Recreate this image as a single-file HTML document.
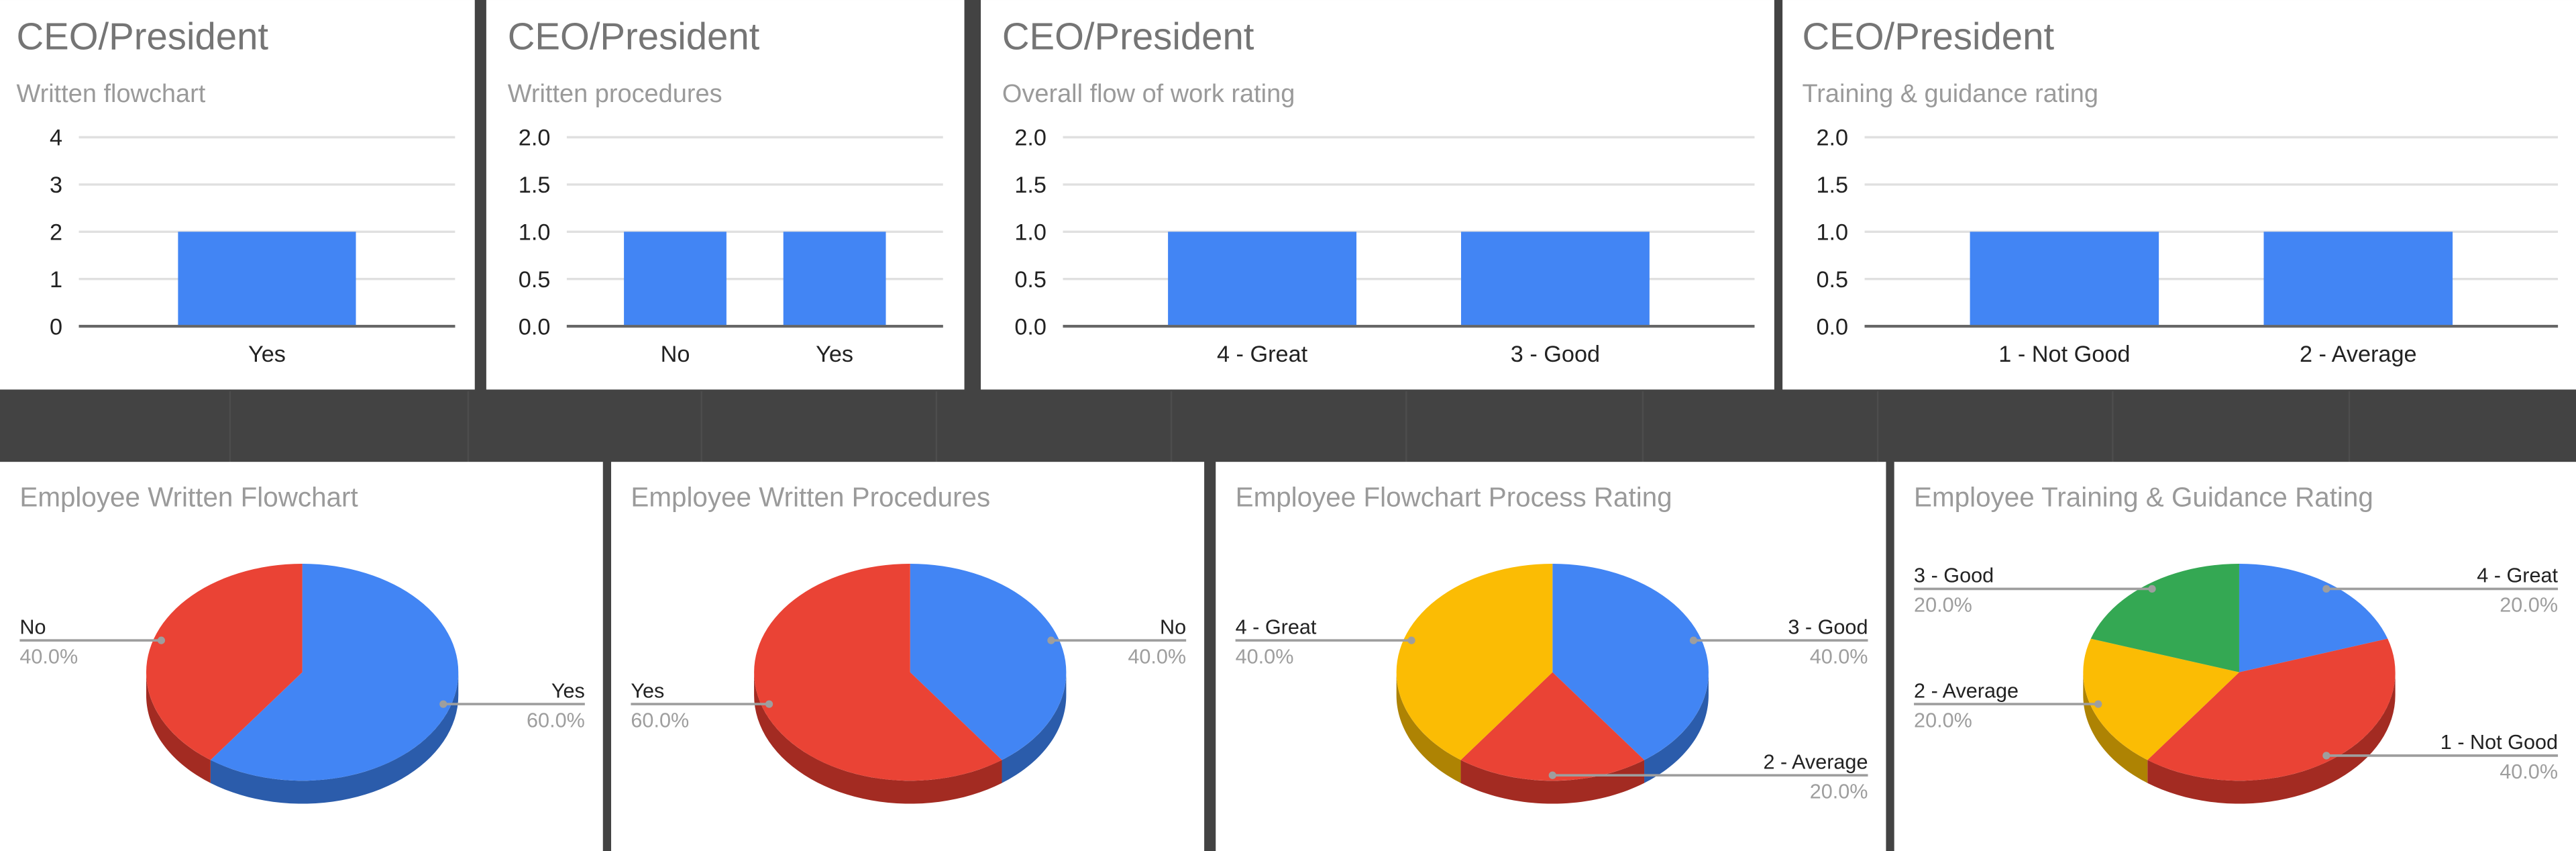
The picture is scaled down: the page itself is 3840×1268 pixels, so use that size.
<!DOCTYPE html>
<html><head><meta charset="utf-8">
<style>
html,body{margin:0;padding:0;background:#434343;}
svg{display:block;font-family:"Liberation Sans",Arial,sans-serif;}
</style></head>
<body>
<svg id="root" width="3840" height="1268" viewBox="0 0 1568 517.76" xmlns="http://www.w3.org/2000/svg">
<rect x="0" y="0" width="1568" height="517.76" fill="#434343"/>
</svg>
<script>
// ---- bar chart data ----
const bar1Categories = ["Yes"];
const bar1Values = [2];
const bar1Ticks = [0,1,2,3,4];
const bar1TickLabels = ["0","1","2","3","4"];

const bar2Categories = ["No","Yes"];
const bar2Values = [1,1];
const bar2Ticks = [0,0.5,1,1.5,2];
const bar2TickLabels = ["0.0","0.5","1.0","1.5","2.0"];

const bar3Categories = ["4 - Great","3 - Good"];
const bar3Values = [1,1];
const bar3Ticks = [0,0.5,1,1.5,2];
const bar3TickLabels = ["0.0","0.5","1.0","1.5","2.0"];

const bar4Categories = ["1 - Not Good","2 - Average"];
const bar4Values = [1,1];
const bar4Ticks = [0,0.5,1,1.5,2];
const bar4TickLabels = ["0.0","0.5","1.0","1.5","2.0"];

// ---- pie chart data ----
const pie1Labels = ["Yes","No"];
const pie1Values = [60,40];
const pie1Colors = ["blue","red"];

const pie2Labels = ["No","Yes"];
const pie2Values = [40,60];
const pie2Colors = ["blue","red"];

const pie3Labels = ["3 - Good","2 - Average","4 - Great"];
const pie3Values = [40,20,40];
const pie3Colors = ["blue","red","yellow"];

const pie4Labels = ["4 - Great","1 - Not Good","2 - Average","3 - Good"];
const pie4Values = [20,40,20,20];
const pie4Colors = ["blue","red","yellow","green"];

const NS="http://www.w3.org/2000/svg";
const root=document.getElementById('root');
const TOP={blue:"#4285f4",red:"#ea4335",yellow:"#fbbc04",green:"#34a853"};
const SIDE={blue:"#2b5cab",red:"#a32b22",yellow:"#ae8303",green:"#237539"};

function el(tag,attrs,parent,text){
  const e=document.createElementNS(NS,tag);
  for(const k in attrs) e.setAttribute(k,attrs[k]);
  if(text!==undefined) e.textContent=text;
  (parent||root).appendChild(e);
  return e;
}

[140,285,427,570,713,856,1000,1143,1286,1430].forEach(x=>{
  const l=el('line',{x1:x,y1:238,x2:x,y2:281,stroke:'#4d4d4d','stroke-width':1});
  
  
});

function barChart(g,name,cats,vals,ticks,tickLabels){
  const grp=el('g',{});
  
  
  const p=el('rect',{x:g.px,y:g.py,width:g.pw,height:g.ph,fill:'#ffffff'},grp);
  
  
  const t=el('text',{x:g.px+g.tx,y:30,'font-size':23,fill:'#757575'},grp,'CEO/President');
  
  
  const s=el('text',{x:g.px+g.tx,y:62,'font-size':15.5,fill:'#9a9a9a'},grp,g.sub);
  
  
  const y0=198.5,y1=83.5;
  const tmax=ticks[ticks.length-1];
  const Y=v=>y0-(v/tmax)*(y0-y1);
  ticks.forEach((tv,i)=>{
    const gl=el('line',{x1:g.gx0,x2:g.gx1,y1:Y(tv),y2:Y(tv),stroke:i===0?'#666':'#e0e0e0','stroke-width':i===0?1.6:1.4},grp);
    
    
    const tl=el('text',{x:g.gx0-10,y:Y(tv)+5,'font-size':14,fill:'#222','text-anchor':'end'},grp,tickLabels[i]);
    
    
  });
  const n=cats.length,W=g.gx1-g.gx0;
  const step=W/(n+0.36),bw=step*0.643;
  const start=(g.gx0+g.gx1)/2-step*(n-1)/2;
  cats.forEach((c,i)=>{
    const cx=start+step*i;
    const b=el('rect',{x:cx-bw/2,y:Y(vals[i]),width:bw,height:y0-Y(vals[i]),fill:'#4285f4'},grp);
    
    
    const xl=el('text',{x:cx,y:220,'font-size':14,fill:'#222','text-anchor':'middle'},grp,c);
    
    
  });
  const bl=el('line',{x1:g.gx0,x2:g.gx1,y1:y0,y2:y0,stroke:'#666','stroke-width':1.6},grp);
  
  
}

barChart({px:0,py:0,pw:289,ph:237,tx:10,sub:'Written flowchart',gx0:48,gx1:277},'bar-chart-written-flowchart',bar1Categories,bar1Values,bar1Ticks,bar1TickLabels);
barChart({px:296,py:0,pw:291,ph:237,tx:13,sub:'Written procedures',gx0:345,gx1:574},'bar-chart-written-procedures',bar2Categories,bar2Values,bar2Ticks,bar2TickLabels);
barChart({px:597,py:0,pw:483,ph:237,tx:13,sub:'Overall flow of work rating',gx0:647,gx1:1068},'bar-chart-flow-of-work',bar3Categories,bar3Values,bar3Ticks,bar3TickLabels);
barChart({px:1085,py:0,pw:483,ph:237,tx:12,sub:'Training & guidance rating',gx0:1135,gx1:1557},'bar-chart-training-guidance',bar4Categories,bar4Values,bar4Ticks,bar4TickLabels);

function pieChart(g,name,labels,vals,colors){
  const grp=el('g',{});
  
  
  const p=el('rect',{x:g.px,y:281,width:g.pw,height:240,fill:'#ffffff'},grp);
  
  
  const t=el('text',{x:g.px+12,y:308,'font-size':16.5,fill:'#9a9a9a'},grp,g.title);
  
  
  const cx=g.cx,cy=409,rx=95,ry=66,d=14;
  const P=(deg,f)=>{const r=deg*Math.PI/180;return [cx+rx*f*Math.sin(r),cy-ry*f*Math.cos(r)];};
  const total=vals.reduce((a,b)=>a+b,0);
  let a=0;const segs=[];
  vals.forEach((v,i)=>{const b=a+v/total*360;segs.push([a,b]);a=b;});
  segs.forEach(([s,e],i)=>{
    const lo=Math.max(s,90),hi=Math.min(e,270);
    if(hi<=lo) return;
    const pts=[];
    for(let k=0;k<=40;k++){const q=P(lo+(hi-lo)*k/40,1);pts.push(q);}
    const back=pts.slice().reverse().map(q=>[q[0],q[1]+d]);
    const poly=pts.concat(back).map(q=>q[0].toFixed(2)+','+q[1].toFixed(2)).join(' ');
    const sd=el('polygon',{points:poly,fill:SIDE[colors[i]]},grp);
    
    
  });
  segs.forEach(([s,e],i)=>{
    const pts=[[cx,cy]];
    const n=Math.max(4,Math.ceil((e-s)/3));
    for(let k=0;k<=n;k++) pts.push(P(s+(e-s)*k/n,1));
    const sl=el('polygon',{points:pts.map(q=>q[0].toFixed(2)+','+q[1].toFixed(2)).join(' '),fill:TOP[colors[i]]},grp);
    
    
  });
  segs.forEach(([s,e],i)=>{
    const dot=P((s+e)/2,0.95);
    const right=dot[0]>=cx-0.5;
    const lx=right?g.px+g.pw-11:g.px+12;
    const ln=el('line',{x1:dot[0],y1:dot[1],x2:lx,y2:dot[1],stroke:'#9e9e9e','stroke-width':1.5},grp);
    
    
    const c=el('circle',{cx:dot[0],cy:dot[1],r:2.3,fill:'#9e9e9e'},grp);
    
    
    const anc=right?'end':'start';
    const lt=el('text',{x:lx,y:dot[1]-4,'font-size':12.5,fill:'#222','text-anchor':anc},grp,labels[i]);
    
    
    const pt=el('text',{x:lx,y:dot[1]+14,'font-size':12.5,fill:'#9e9e9e','text-anchor':anc},grp,(vals[i]/total*100).toFixed(1)+'%');
    
    
  });
}

pieChart({px:0,pw:367,cx:184,title:'Employee Written Flowchart'},'pie-chart-written-flowchart',pie1Labels,pie1Values,pie1Colors);
pieChart({px:372,pw:361,cx:554,title:'Employee Written Procedures'},'pie-chart-written-procedures',pie2Labels,pie2Values,pie2Colors);
pieChart({px:740,pw:408,cx:945,title:'Employee Flowchart Process Rating'},'pie-chart-flowchart-rating',pie3Labels,pie3Values,pie3Colors);
pieChart({px:1153,pw:415,cx:1363,title:'Employee Training & Guidance Rating'},'pie-chart-training-rating',pie4Labels,pie4Values,pie4Colors);
</script>
</body></html>
